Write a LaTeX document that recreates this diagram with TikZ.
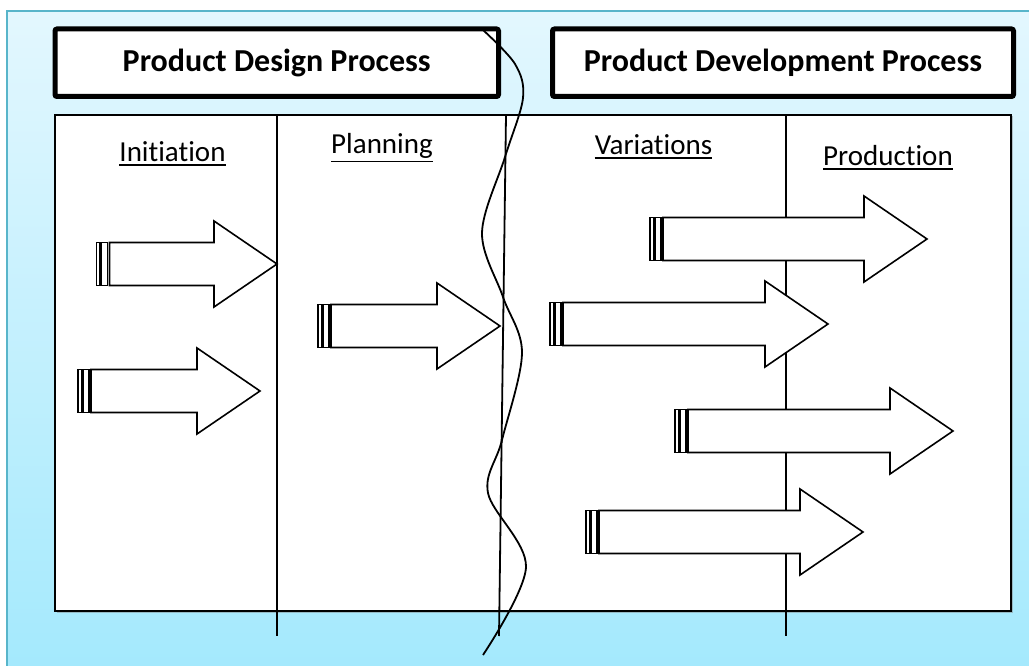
\documentclass[tikz,border=0pt]{standalone}
\usepackage{fontspec}
\setmainfont{Carlito}[RawFeature={-liga}]
\usetikzlibrary{shadows}
\definecolor{skytop}{HTML}{E3F7FE}
\definecolor{skybot}{HTML}{A3E9FD}
\definecolor{frameline}{HTML}{58B5CA}

\begin{document}
\begin{tikzpicture}[x=1pt,y=-1pt,
  titlebox/.style={draw=black, line width=5pt, fill=white, rounded corners=2pt,
    inner sep=0pt, font=\fontsize{32}{38}\selectfont\bfseries},
  stagebox/.style={draw=black, line width=2pt, fill=white, inner sep=0pt,
    drop shadow={opacity=0.45, shadow xshift=1.5pt, shadow yshift=-1.5pt}},
  divider/.style={draw=black, line width=1.8pt},
  phase/.style={inner sep=0pt, font=\fontsize{29}{34}\selectfont},
  uline/.style={draw=black, line width=1.6pt},
  arrowshape/.style={draw=black, fill=white, line width=1.6pt, line join=miter},
  wave/.style={draw=black, line width=1.8pt},
  % striped block arrow, #1 = length from tail to tip
  pics/sarrow/.style={code={
    \path[arrowshape] (0,-21.5) rectangle (3.5,21.5);
    \path[arrowshape] (5,-21.5) rectangle (11,21.5);
    \path[arrowshape] (13,-21.5) -- (#1-63,-21.5) -- (#1-63,-43) -- (#1,0)
      -- (#1-63,43) -- (#1-63,21.5) -- (13,21.5) -- cycle;
  }}
]
\useasboundingbox (0,0) rectangle (1029,666);
\clip (0,0) rectangle (1029,666);
\fill[white] (0,0) rectangle (1029,666);

% shaded backdrop with its frame
\shade[top color=skytop, bottom color=skybot] (7,11) rectangle (1040,680);
\draw[frameline, line width=2pt] (1040,11) -- (7,11) -- (7,680);

% headings
\node[titlebox, minimum width=443.5pt, minimum height=67.5pt] (design) at (276.75,62.75)
  {Product Design Process};
\node[titlebox, minimum width=461pt, minimum height=67.5pt] (develop) at (783,62.75)
  {Product Development Process};

% stage area
\node[stagebox, minimum width=956pt, minimum height=496pt] (stage) at (533,363) {};

% stage dividers
\coordinate (d1t) at (277,115);  \coordinate (d1b) at (277,636);
\coordinate (d2t) at (506,115);  \coordinate (d2b) at (499,636);
\coordinate (d3t) at (786,115);  \coordinate (d3b) at (786,636);
\draw[divider] (d1t) -- (d1b);
\draw[divider] (d2t) -- (d2b);
\draw[divider] (d3t) -- (d3b);

% phase names, underlined
\node[phase, anchor=base] (init) at (172.5,162) {Initiation};
\node[phase, anchor=base] (plan) at (382,154) {Planning};
\node[phase, anchor=base] (vari) at (653.5,155) {Variations};
\node[phase, anchor=base] (prod) at (888,166) {Production};
\foreach \n in {init,plan,vari,prod}
  \draw[uline] ([yshift=-2.5pt]\n.south west) -- ([yshift=-2.5pt]\n.south east);

% striped arrows
\pic at (96.5,264) {sarrow=180.5};
\pic at (78,391) {sarrow=182};
\pic at (318,326) {sarrow=182};
\pic at (650,239) {sarrow=277};
\pic at (550,324) {sarrow=278};
\pic at (675,431) {sarrow=278};
\pic at (586,532) {sarrow=277};

% break line between the two processes
\draw[wave] plot[smooth, tension=0.55] coordinates {
  (483,30) (515,64) (523,98) (505,157) (482,233) (503,297) (522,353)
  (502,440) (488,493) (526,567) (483,655)};
\end{tikzpicture}
\end{document}
